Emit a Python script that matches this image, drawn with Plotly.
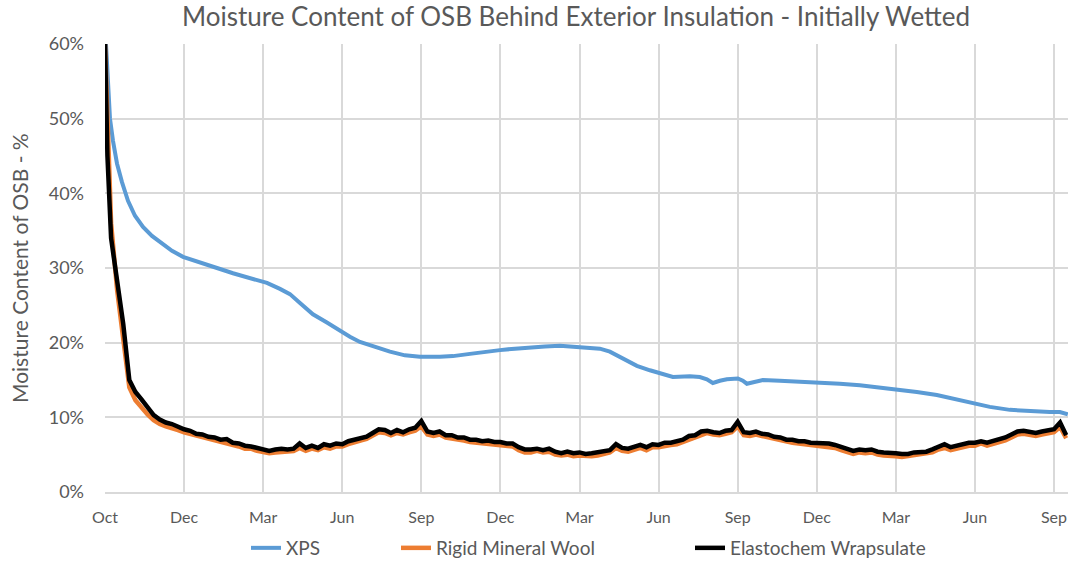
import plotly.graph_objects as go

# ---- data ----
tick_labels = ["Oct", "Dec", "Mar", "Jun", "Sep", "Dec", "Mar", "Jun", "Sep", "Dec", "Mar", "Jun", "Sep"]
tick_weeks = [0, 13, 26, 39, 52, 65, 78, 91, 104, 117, 130, 143, 156]

xps_weeks = [0.16, 0.49, 0.82, 1.32, 1.97, 2.79, 3.78, 4.93, 6.25, 7.72, 9.04, 11.01, 12.82, 15.61,
             18.41, 21.04, 23.83, 26.62, 28.76, 30.40, 32.05, 34.18, 36.48, 38.62, 40.26, 41.91,
             44.37, 46.84, 49.30, 51.77, 55.06, 57.19, 59.99, 62.45, 64.92, 67.38, 69.85, 72.31,
             74.78, 77.24, 79.21, 81.35, 82.99, 84.97, 87.43, 89.57, 91.21, 93.35, 96.14, 97.78,
             98.94, 99.92, 101.07, 102.22, 104.03, 104.85, 105.51, 106.82, 108.14, 110.93, 114.22,
             117.01, 120.79, 124.08, 127.37, 130.16, 133.45, 136.74, 139.70, 142.66, 145.45,
             148.74, 152.02, 155.31, 156.96, 158.27]
xps = [60.0, 54.0, 50.0, 47.0, 44.0, 41.5, 39.0, 37.0, 35.5, 34.3, 33.5, 32.3, 31.5, 30.7,
       30.0, 29.3, 28.6, 28.0, 27.2, 26.5, 25.3, 23.8, 22.7, 21.6, 20.8, 20.1,
       19.4, 18.8, 18.3, 18.1, 18.1, 18.2, 18.5, 18.8, 19.0, 19.2, 19.4, 19.5,
       19.6, 19.5, 19.4, 19.2, 18.8, 18.0, 16.9, 16.3, 15.9, 15.4, 15.5, 15.4,
       15.1, 14.6, 14.9, 15.1, 15.2, 14.9, 14.5, 14.8, 15.0, 14.9, 14.8,
       14.7, 14.5, 14.3, 14.0, 13.8, 13.4, 13.0, 12.5, 11.9, 11.4,
       11.0, 10.8, 10.7, 10.7, 10.4]

wool_weeks = [0, 0.4] + list(range(1, 159))
mineral_wool = [60.0, 50.0, 36.0, 27.0, 20.0, 14.0, 12.3, 11.3, 10.4, 9.6, 9.1,
                8.8, 8.6, 8.3, 8.0, 7.8, 7.5, 7.3, 7.1, 6.9, 6.7,
                6.6, 6.3, 6.1, 5.8, 5.8, 5.5, 5.3, 5.2, 5.3, 5.4,
                5.4, 5.5, 5.9, 5.5, 5.8, 5.6, 6.0, 5.8, 6.1, 6.1,
                6.4, 6.7, 6.9, 7.1, 7.6, 8.0, 7.9, 7.6, 7.9, 7.7,
                8.0, 8.2, 8.8, 7.7, 7.5, 7.7, 7.3, 7.2, 7.0, 6.9,
                6.7, 6.6, 6.5, 6.5, 6.4, 6.3, 6.2, 6.1, 5.6, 5.3,
                5.3, 5.5, 5.3, 5.4, 5.0, 4.9, 5.0, 4.8, 4.9, 4.8,
                4.8, 4.9, 5.1, 5.3, 5.9, 5.5, 5.4, 5.7, 5.9, 5.6,
                6.0, 6.0, 6.2, 6.3, 6.4, 6.7, 7.1, 7.3, 7.7, 7.9,
                7.7, 7.6, 7.8, 8.0, 8.8, 7.6, 7.5, 7.7, 7.5, 7.3,
                7.1, 6.9, 6.7, 6.6, 6.5, 6.4, 6.3, 6.2, 6.1, 6.1,
                5.9, 5.6, 5.3, 5.1, 5.3, 5.2, 5.3, 5.0, 4.9, 4.9,
                4.8, 4.7, 4.8, 4.9, 5.0, 5.1, 5.3, 5.7, 5.9, 5.6,
                5.8, 5.9, 6.2, 6.2, 6.5, 6.2, 6.4, 6.7, 6.9, 7.3,
                7.7, 7.8, 7.7, 7.5, 7.7, 7.9, 8.0, 8.7, 7.2]

wrapsulate = [60.0, 45.0, 34.0, 28.0, 22.5, 15.0, 13.4, 12.4, 11.3, 10.3, 9.7,
              9.3, 9.1, 8.7, 8.4, 8.2, 7.8, 7.7, 7.4, 7.3, 7.0,
              7.1, 6.6, 6.5, 6.2, 6.1, 5.9, 5.7, 5.5, 5.7, 5.8,
              5.7, 5.8, 6.5, 5.9, 6.2, 5.9, 6.4, 6.2, 6.5, 6.4,
              6.8, 7.0, 7.3, 7.4, 7.9, 8.4, 8.3, 7.9, 8.3, 8.0,
              8.4, 8.6, 9.5, 8.1, 7.9, 8.1, 7.6, 7.6, 7.3, 7.3,
              7.0, 7.0, 6.8, 6.9, 6.7, 6.7, 6.5, 6.5, 6.0, 5.7,
              5.7, 5.8, 5.6, 5.8, 5.4, 5.2, 5.4, 5.2, 5.3, 5.1,
              5.2, 5.3, 5.4, 5.6, 6.4, 5.9, 5.8, 6.1, 6.3, 6.0,
              6.4, 6.3, 6.6, 6.6, 6.8, 7.0, 7.5, 7.6, 8.1, 8.2,
              8.0, 7.9, 8.2, 8.3, 9.4, 8.0, 7.9, 8.1, 7.8, 7.7,
              7.4, 7.3, 7.0, 7.0, 6.8, 6.8, 6.6, 6.6, 6.5, 6.5,
              6.3, 6.0, 5.7, 5.5, 5.7, 5.6, 5.7, 5.4, 5.3, 5.3,
              5.2, 5.1, 5.1, 5.3, 5.3, 5.4, 5.7, 6.1, 6.4, 6.0,
              6.2, 6.3, 6.6, 6.6, 6.8, 6.6, 6.8, 7.1, 7.3, 7.7,
              8.1, 8.2, 8.0, 7.9, 8.1, 8.2, 8.4, 9.3, 7.6]

FONT = "Lato"
TXT = "#595959"
GRID = "#d9d9d9"

fig = go.Figure()
fig.add_trace(go.Scatter(x=xps_weeks, y=xps, mode="lines", name="XPS", showlegend=True,
                         line=dict(color="#5b9bd5", width=4), legend="legend"))
fig.add_trace(go.Scatter(x=wool_weeks, y=mineral_wool, mode="lines", name="Rigid Mineral Wool",
                         showlegend=True, line=dict(color="#ed7d31", width=4.5), legend="legend2"))
fig.add_trace(go.Scatter(x=wool_weeks, y=wrapsulate, mode="lines", name="Elastochem Wrapsulate",
                         showlegend=True, line=dict(color="#000000", width=4.5), legend="legend3"))

leg_common = dict(orientation="h", yref="container", yanchor="middle", y=(565 - 548) / 565,
                  xanchor="left",
                  font=dict(family=FONT, size=19, color=TXT), bgcolor="rgba(0,0,0,0)",
                  itemwidth=30)

fig.update_layout(
    width=1075, height=565,
    showlegend=True,
    margin=dict(l=105, r=7, t=44, b=73),
    paper_bgcolor="white", plot_bgcolor="white",
    title=dict(text="Moisture Content of OSB Behind Exterior Insulation - Initially Wetted",
               x=576 / 1075, xanchor="center", y=0.97, yanchor="middle",
               font=dict(family=FONT, size=26, color=TXT)),
    legend=dict(x=(246 - 105) / 963, **leg_common),
    legend2=dict(x=(396 - 105) / 963, **leg_common),
    legend3=dict(x=(690 - 105) / 963, **leg_common),
    xaxis=dict(range=[0, 158.3], tickvals=tick_weeks, ticktext=tick_labels, automargin=False,
               showgrid=True, gridcolor=GRID, gridwidth=1.5, zeroline=False,
               showline=True, linecolor=GRID, linewidth=1.5, ticks="",
               tickfont=dict(family=FONT, size=16, color=TXT), ticklabelstandoff=10),
    yaxis=dict(range=[0, 60], dtick=10, ticksuffix="%", automargin=False,
               showgrid=True, gridcolor=GRID, gridwidth=1.5, zeroline=False, ticks="",
               tickfont=dict(family=FONT, size=18, color=TXT), ticklabelstandoff=20),
    annotations=[dict(text="Moisture Content of OSB - %", textangle=-90,
                      xref="paper", yref="paper", x=(19 - 105) / 963, y=0.5,
                      xanchor="center", yanchor="middle", showarrow=False,
                      font=dict(family=FONT, size=21, color=TXT))],
)

fig.write_html("out.html", config={"displayModeBar": False},
               post_script="document.body.style.margin='0';document.body.style.overflow='hidden';")
